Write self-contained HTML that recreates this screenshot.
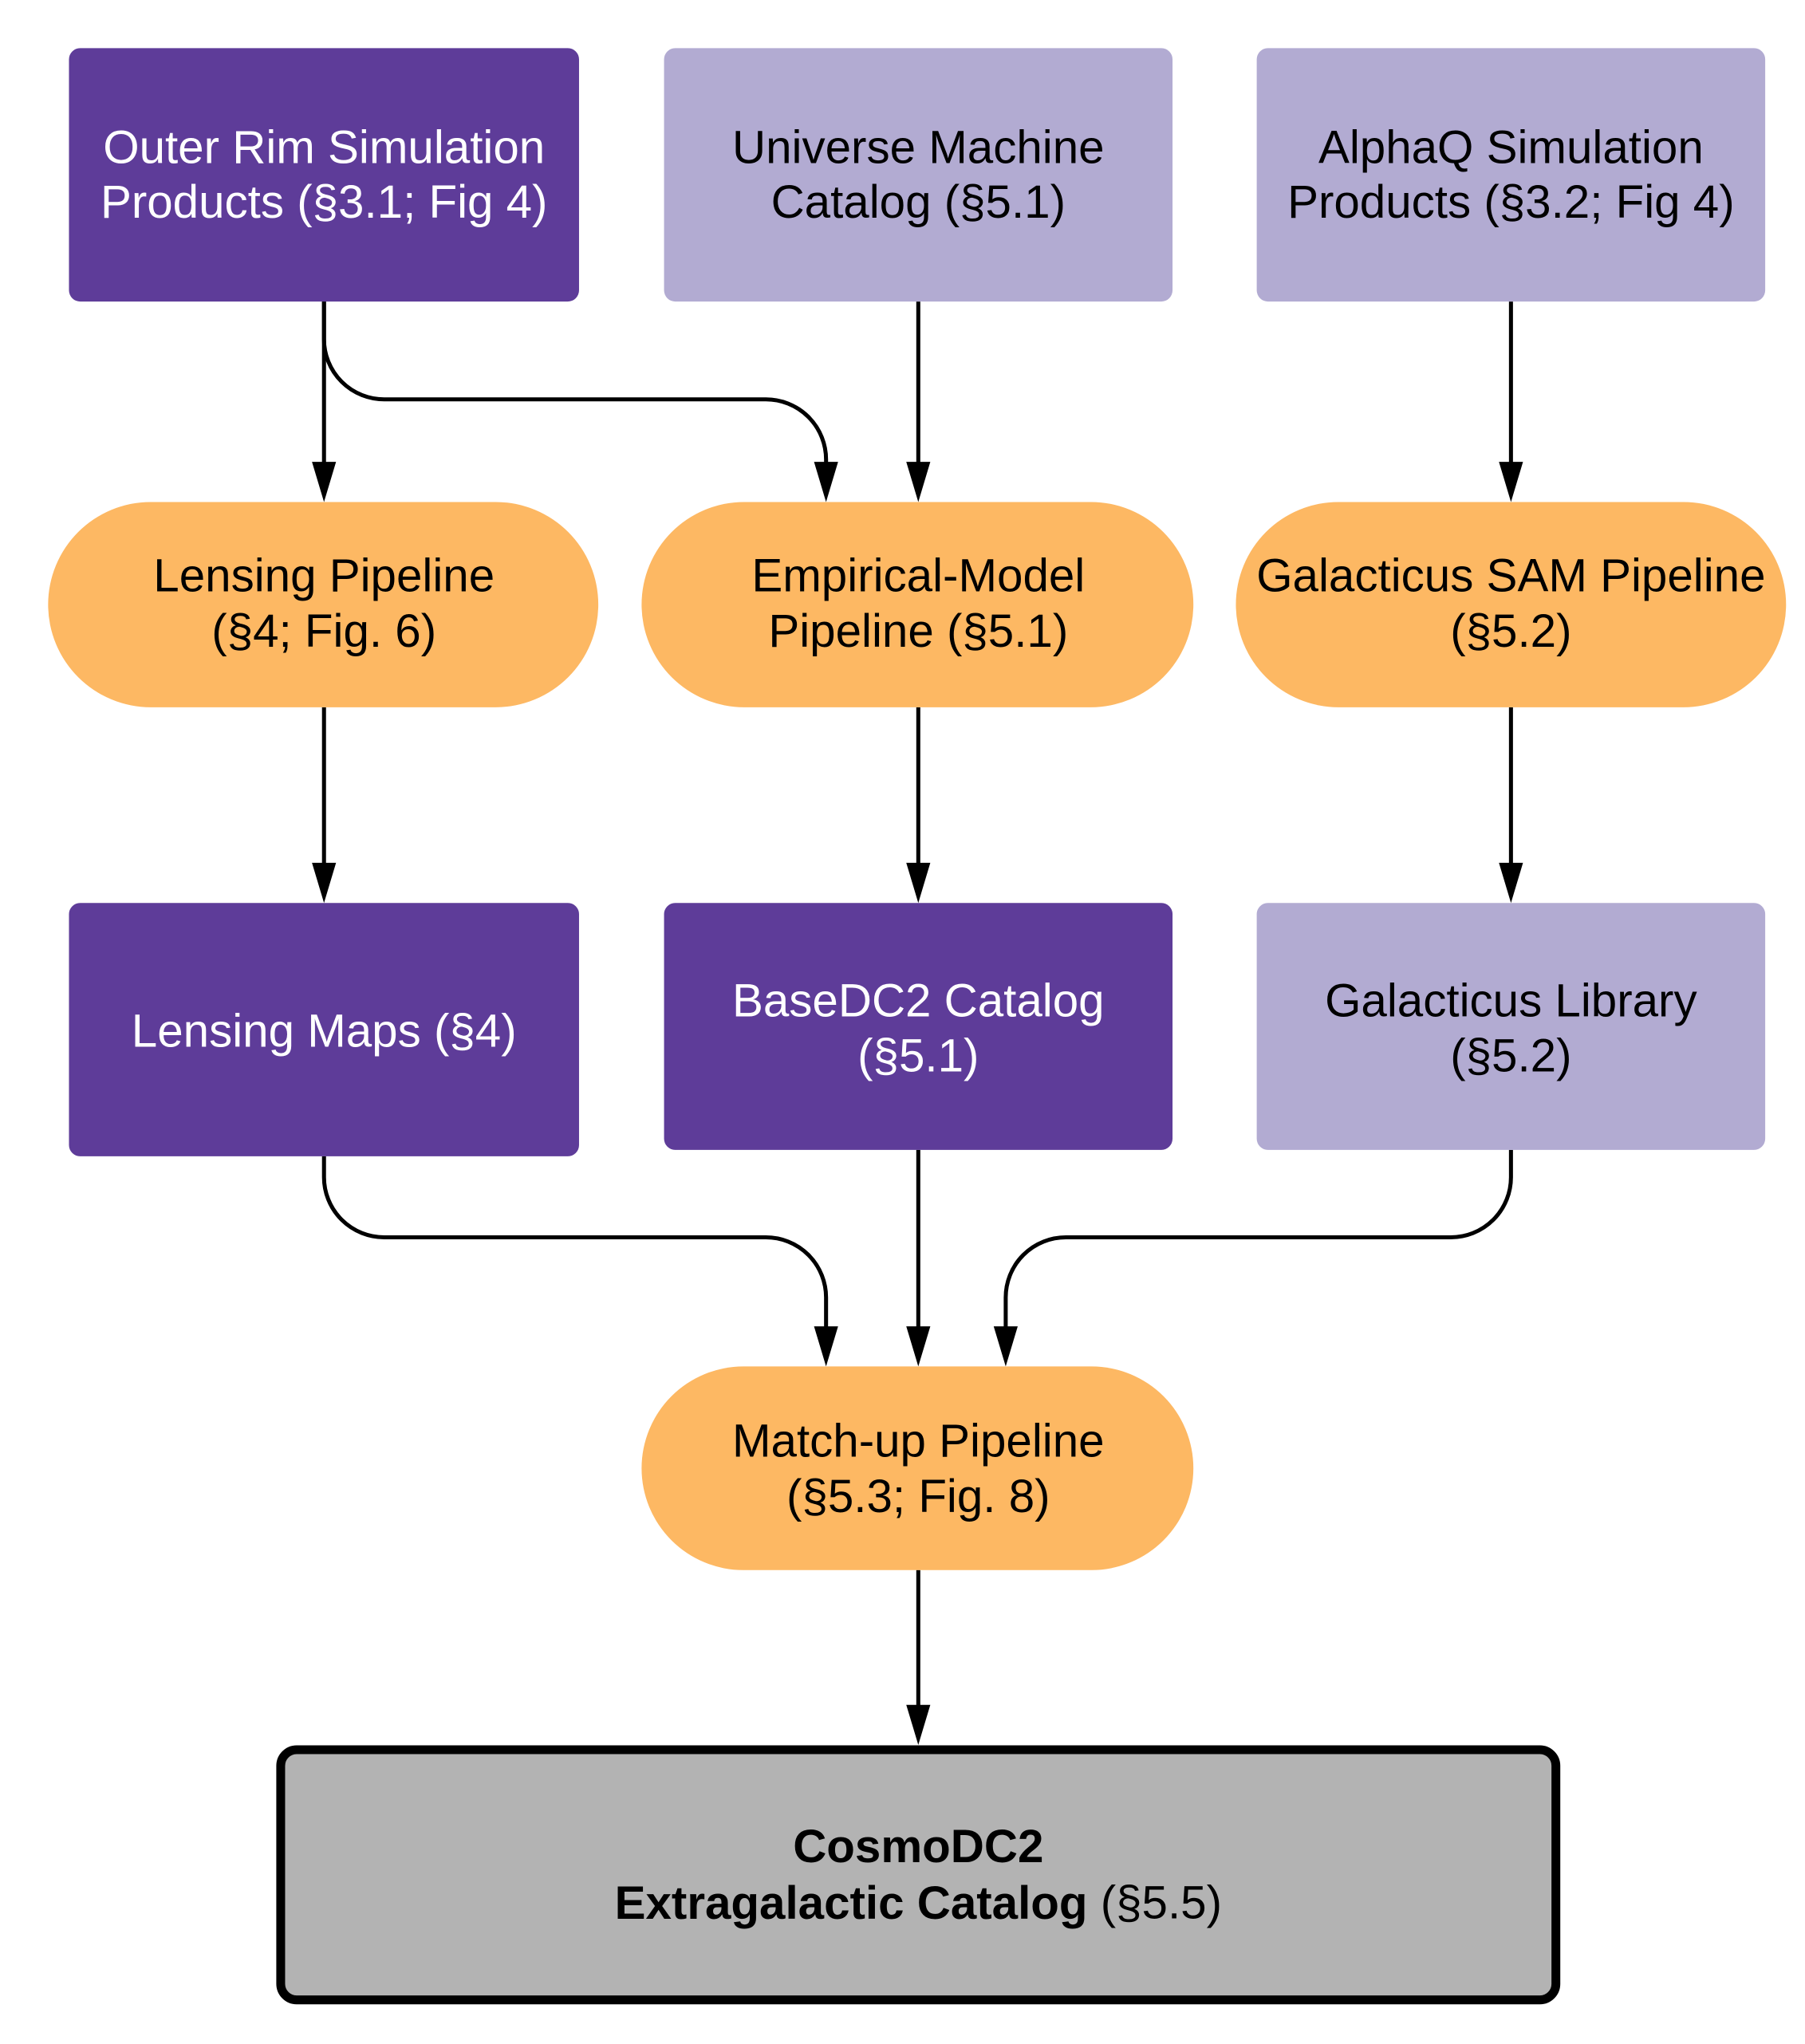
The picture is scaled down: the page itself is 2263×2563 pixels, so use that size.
<!DOCTYPE html>
<html><head><meta charset="utf-8"><style>
html,body{margin:0;padding:0;background:#fff;}
svg{display:block;}
text{font-family:"Liberation Sans",sans-serif;font-size:58px;text-anchor:middle;dominant-baseline:central;}
</style></head><body>
<svg width="2263" height="2563" viewBox="0 0 2263 2563" xmlns="http://www.w3.org/2000/svg">
<g transform="scale(1.0055)">
<g stroke="#000" stroke-width="5" fill="none">
<line x1="404" y1="376" x2="404" y2="580"/>
<path d="M404 376 V423 A75 75 0 0 0 479 498 H955 A75 75 0 0 1 1030 573 V580"/>
<line x1="1145" y1="376" x2="1145" y2="580"/>
<line x1="1884" y1="376" x2="1884" y2="580"/>
<line x1="404" y1="882" x2="404" y2="1080"/>
<line x1="1145" y1="882" x2="1145" y2="1080"/>
<line x1="1884" y1="882" x2="1884" y2="1080"/>
<path d="M404 1442 V1468 A75 75 0 0 0 479 1543 H955 A75 75 0 0 1 1030 1618 V1658"/>
<line x1="1145" y1="1434" x2="1145" y2="1658"/>
<path d="M1884 1434 V1468 A75 75 0 0 1 1809 1543 H1329 A75 75 0 0 0 1254 1618 V1658"/>
<line x1="1145" y1="1958" x2="1145" y2="2130"/>
</g>
<g fill="#000">
<polygon points="389,576 419,576 404,626"/>
<polygon points="1015,576 1045,576 1030,626"/>
<polygon points="1130,576 1160,576 1145,626"/>
<polygon points="1869,576 1899,576 1884,626"/>
<polygon points="389,1076 419,1076 404,1126"/>
<polygon points="1130,1076 1160,1076 1145,1126"/>
<polygon points="1869,1076 1899,1076 1884,1126"/>
<polygon points="1015,1654 1045,1654 1030,1704"/>
<polygon points="1130,1654 1160,1654 1145,1704"/>
<polygon points="1239,1654 1269,1654 1254,1704"/>
<polygon points="1130,2126 1160,2126 1145,2176"/>
</g>
<rect x="86" y="60" width="636" height="316" rx="14" fill="#5e3c99"/>
<rect x="828" y="60" width="634" height="316" rx="14" fill="#b2abd2"/>
<rect x="1567" y="60" width="634" height="316" rx="14" fill="#b2abd2"/>
<text x="404" y="184" fill="#fff">Outer Rim Simulation</text>
<text x="404" y="252" fill="#fff">Products (§3.1; Fig 4)</text>
<text x="1145" y="184">Universe Machine</text>
<text x="1145" y="252">Catalog (§5.1)</text>
<text x="1884" y="184">AlphaQ Simulation</text>
<text x="1884" y="252">Products (§3.2; Fig 4)</text>
<rect x="60" y="626" width="686" height="256" rx="128" fill="#fdb863"/>
<rect x="800" y="626" width="688" height="256" rx="128" fill="#fdb863"/>
<rect x="1541" y="626" width="686" height="256" rx="128" fill="#fdb863"/>
<text x="404" y="718">Lensing Pipeline</text>
<text x="404" y="787">(§4; Fig. 6)</text>
<text x="1145" y="718">Empirical-Model</text>
<text x="1145" y="787">Pipeline (§5.1)</text>
<text x="1884" y="718">Galacticus SAM Pipeline</text>
<text x="1884" y="787">(§5.2)</text>
<rect x="86" y="1126" width="636" height="316" rx="14" fill="#5e3c99"/>
<rect x="828" y="1126" width="634" height="308" rx="14" fill="#5e3c99"/>
<rect x="1567" y="1126" width="634" height="308" rx="14" fill="#b2abd2"/>
<text x="404" y="1286" fill="#fff">Lensing Maps  (§4)</text>
<text x="1145" y="1248" fill="#fff">BaseDC2 Catalog</text>
<text x="1145" y="1317" fill="#fff">(§5.1)</text>
<text x="1884" y="1248">Galacticus Library</text>
<text x="1884" y="1317">(§5.2)</text>
<rect x="800" y="1704" width="688" height="254" rx="127" fill="#fdb863"/>
<text x="1145" y="1797">Match-up Pipeline</text>
<text x="1145" y="1866">(§5.3; Fig. 8)</text>
<rect x="350" y="2182" width="1590" height="312" rx="20" fill="#b3b3b3" stroke="#000" stroke-width="11"/>
<text x="1145" y="2303" font-weight="bold">CosmoDC2</text>
<text x="1145" y="2373"><tspan font-weight="bold">Extragalactic Catalog</tspan> (§5.5)</text>
</g>
</svg>
</body></html>
